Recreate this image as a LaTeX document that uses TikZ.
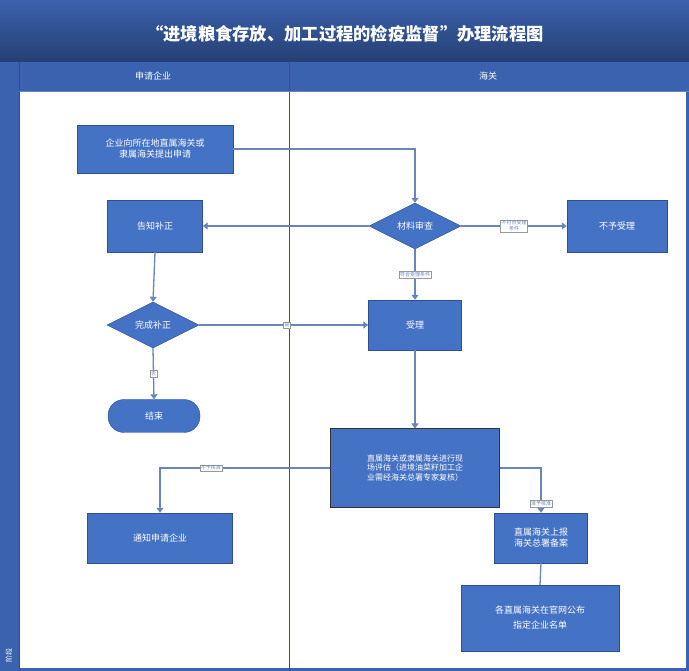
\documentclass[tikz,border=0pt]{standalone}
\usepackage{fontspec}
\setmainfont{Noto Sans CJK SC}
\usetikzlibrary{shapes.geometric,arrows.meta}
\definecolor{bx}{HTML}{4472C4}
\definecolor{bd}{HTML}{2F4F8F}
\definecolor{ln}{HTML}{6A85B8}
\definecolor{hd}{HTML}{3B62AE}
\tikzset{
	box/.style = {draw=bd,fill=bx,text=white,font=\small,align=center,inner sep=2pt},
	dia/.style = {diamond,aspect=2,draw=bd,fill=bx,text=white,font=\small,inner sep=1pt,minimum width=92,minimum height=46},
	arr/.style = {-{Triangle[width=7pt,length=5pt]},ln,line width=1.3pt},
	lab/.style = {fill=white,draw=black!40,line width=0.3pt,font=\tiny,inner sep=1pt,align=center}
}
\begin{document}
\begin{tikzpicture}[x=1pt,y=-1pt]
	\useasboundingbox (0,0) rectangle (689,671);
	% frame
	\fill [hd] (0,0) rectangle (689,671);
	\shade [top color=hd,bottom color=bd!80!black] (0,0) rectangle (689,62);
	\node [text=white,font=\LARGE\bfseries] (title) at (345,34) {“进境粮食存放、加工过程的检疫监督”办理流程图};
	\fill [white] (19,91) rectangle (686,668);
	\draw [bd,line width=0.8pt] (19,62) -- (19,671);
	\draw [bd,line width=0.8pt] (289,62) -- (289,671);
	\draw [bd!70,line width=0.6pt] (19,91) -- (689,91);
	\node [text=white,font=\small] (laneA) at (153,76) {申请企业};
	\node [text=white,font=\small] (laneB) at (488,76) {海关};
	\node [text=white,font=\scriptsize,rotate=90] (stage) at (9,655) {阶段};

	% nodes
	\node [box,minimum width=156,minimum height=48] (apply) at (155,149) {企业向所在地直属海关或\\隶属海关提出申请};
	\node [dia] (review) at (415,226) {材料审查};
	\node [box,minimum width=100,minimum height=52] (reject) at (617,226) {不予受理};
	\node [box,minimum width=95,minimum height=52] (notify) at (155,226) {告知补正};
	\node [dia] (done) at (153,325) {完成补正};
	\node [box,minimum width=93,minimum height=50] (accept) at (415,325) {受理};
	\node [box,rounded corners=16pt,minimum width=92,minimum height=33] (stop) at (154,416) {结束};
	\node [box,minimum width=169,minimum height=78,font=\footnotesize,draw=black!80,line width=1pt] (eval) at (415,468) {直属海关或隶属海关进行现\\场评估（进境油菜籽加工企\\业需经海关总署专家复核）};
	\node [box,minimum width=145,minimum height=50] (inform) at (160,538) {通知申请企业};
	\node [box,minimum width=93,minimum height=50] (report) at (541,538) {直属海关上报\\海关总署备案};
	\node [box,minimum width=158,minimum height=66] (publish) at (540,618) {各直属海关在官网公布\\[4pt]指定企业名单};

	% connectors
	\draw [arr] (apply.east) -| (review.north);
	\draw [arr] (review.west) -- (notify.east);
	\draw [arr] (review.east) -- node[lab] {不符合受理\\条件} (reject.west);
	\draw [arr] (review.south) -- node[lab] {符合受理条件} (accept.north);
	\draw [arr] (notify.south) -- (done.north);
	\draw [arr] (done.east) -- node[lab,pos=0.52] {是} (accept.west);
	\draw [arr] (done.south) -- node[lab] {否} (stop.north);
	\draw [arr] (accept.south) -- (eval.north);
	\draw [arr] (eval.west) -| node[lab,pos=0.35] {不予核准} (inform.north);
	\draw [arr] (eval.east) -| node[lab,pos=0.9] {准予核准} (report.north);
	\draw [ln,line width=1.3pt] (report.south) -- (publish.north);
\end{tikzpicture}
\end{document}
